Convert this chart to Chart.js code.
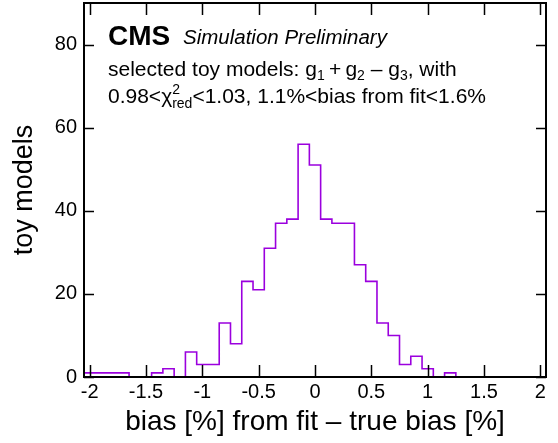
<!DOCTYPE html>
<html>
<head>
<meta charset="utf-8">
<script src="https://cdn.jsdelivr.net/npm/chart.js@4"></script>
<style>
  html, body { margin: 0; padding: 0; background: #fff; }
  #wrap { width: 558px; height: 443px; }
</style>
</head>
<body>
<div id="wrap"><canvas id="chart" width="558" height="443"></canvas></div>
<script>
// bin centres of the histogram (width 0.1)
const binCenters = [
  -2.0, -1.9, -1.8, -1.7, -1.6, -1.5, -1.4, -1.3, -1.2, -1.1,
  -1.0, -0.9, -0.8, -0.7, -0.6, -0.5, -0.4, -0.3, -0.2, -0.1,
   0.0,  0.1,  0.2,  0.3,  0.4,  0.5,  0.6,  0.7,  0.8,  0.9,
   1.0,  1.1,  1.2,  1.3,  1.4,  1.5,  1.6,  1.7,  1.8,  1.9, 2.0
];
// entries per bin
const counts = [
   1,  1,  1,  1,  0,  0,  1,  2,  0,  6,
   3,  3, 13,  8, 23, 21, 31, 37, 38, 56,
  51, 38, 37, 37, 27, 23, 13, 10,  3,  5,
   2,  0,  1,  0,  0,  0,  0,  0,  0,  0, 0
];
const xTicks = [-2, -1.5, -1, -0.5, 0, 0.5, 1, 1.5, 2];
const yTicks = [0, 20, 40, 60, 80];

const FONT = '"Liberation Sans", Arial, Helvetica, sans-serif';
const LINE_COLOR = 'rgb(155, 0, 222)';

// histogram outline: one point per low edge, plus the last high edge
const binWidth = binCenters[1] - binCenters[0];
const histPoints = binCenters.map((c, i) => ({ x: c - binWidth / 2, y: counts[i] }));
histPoints.push({ x: binCenters[binCenters.length - 1] + binWidth / 2, y: counts[counts.length - 1] });

// draw a line of text made of pieces, some of them sub/superscripts
function drawRich(ctx, x, y, parts) {
  let cx = x;
  for (const p of parts) {
    if (p.stack) {
      let w = 0;
      for (const s of p.stack) {
        ctx.font = s.font;
        ctx.fillText(s.text, cx, y + s.dy);
        w = Math.max(w, ctx.measureText(s.text).width);
      }
      cx += w;
    } else {
      ctx.font = p.font;
      ctx.fillText(p.text, cx, y + (p.dy || 0));
      cx += ctx.measureText(p.text).width;
    }
  }
}

const frameAndText = {
  id: 'frameAndText',
  afterDatasetsDraw(chart) {
    const { ctx, chartArea: a, scales } = chart;
    ctx.save();
    ctx.strokeStyle = '#000';
    ctx.lineWidth = 1.5;
    // tick marks pointing into the frame
    ctx.beginPath();
    xTicks.forEach(v => {
      const px = Math.round(scales.x.getPixelForValue(v)) + 0.5;
      ctx.moveTo(px, a.bottom); ctx.lineTo(px, a.bottom - 12);
      ctx.moveTo(px, a.top); ctx.lineTo(px, a.top + 12);
    });
    yTicks.forEach(v => {
      const py = Math.round(scales.y.getPixelForValue(v)) + 0.5;
      ctx.moveTo(a.left, py); ctx.lineTo(a.left + 10, py);
      ctx.moveTo(a.right, py); ctx.lineTo(a.right - 10, py);
    });
    ctx.stroke();
    ctx.lineWidth = 2;
    ctx.strokeRect(a.left, a.top, a.right - a.left, a.bottom - a.top);

    // labels
    ctx.fillStyle = '#000';
    ctx.textBaseline = 'alphabetic';
    ctx.textAlign = 'left';
    ctx.font = 'bold 28px ' + FONT;
    ctx.fillText('CMS', 108, 45);
    ctx.font = 'italic 20.5px ' + FONT;
    ctx.fillText('Simulation Preliminary', 183, 44);

    const f = '21px ' + FONT;
    const s = '14px ' + FONT;
    drawRich(ctx, 108, 76, [
      { text: 'selected toy models: g', font: f },
      { text: '1', font: s, dy: 4 },
      { text: '\u2009+\u2009g', font: f },
      { text: '2', font: s, dy: 4 },
      { text: ' \u2013 g', font: f },
      { text: '3', font: s, dy: 4 },
      { text: ', with', font: f }
    ]);
    drawRich(ctx, 108, 103, [
      { text: '0.98<\u03c7', font: f },
      { stack: [ { text: '2', font: s, dy: -9 }, { text: 'red', font: s, dy: 5 } ] },
      { text: '<1.03, 1.1%<bias from fit<1.6%', font: f }
    ]);
    ctx.restore();
  }
};

new Chart(document.getElementById('chart'), {
  type: 'line',
  data: {
    datasets: [{
      data: histPoints,
      stepped: true,
      borderColor: LINE_COLOR,
      borderWidth: 1.6,
      pointRadius: 0,
      fill: false,
      tension: 0
    }]
  },
  options: {
    responsive: false,
    animation: false,
    devicePixelRatio: 1,
    layout: { padding: { top: 3, right: 12, left: 0, bottom: 0 } },
    plugins: { legend: { display: false }, tooltip: { enabled: false } },
    scales: {
      x: {
        type: 'linear',
        min: -2.05,
        max: 2.05,
        afterBuildTicks: scale => { scale.ticks = xTicks.map(v => ({ value: v })); },
        afterFit: scale => {
          scale.height = 66;
          scale.paddingLeft = 0;
          scale.paddingRight = 0;
        },
        grid: { display: false, drawTicks: false },
        border: { display: false },
        ticks: {
          padding: 3,
          color: '#000',
          maxRotation: 0,
          autoSkip: false,
          font: { family: FONT, size: 20 },
          callback: v => String(v)
        },
        title: {
          display: true,
          text: 'bias [%] from fit \u2013 true bias [%]',
          color: '#000',
          font: { family: FONT, size: 28 },
          padding: { top: 0, bottom: 4 }
        }
      },
      y: {
        min: 0,
        max: 90,
        afterBuildTicks: scale => { scale.ticks = yTicks.map(v => ({ value: v })); },
        afterFit: scale => {
          scale.width = 84;
          scale.paddingTop = 0;
          scale.paddingBottom = 0;
        },
        grid: { display: false, drawTicks: false },
        border: { display: false },
        ticks: {
          padding: 7,
          color: '#000',
          font: { family: FONT, size: 20 },
          callback: v => String(v)
        },
        title: {
          display: true,
          text: 'toy models',
          color: '#000',
          font: { family: FONT, size: 27 },
          padding: { top: 8, bottom: 0 }
        }
      }
    }
  },
  plugins: [frameAndText]
});
</script>
</body>
</html>
